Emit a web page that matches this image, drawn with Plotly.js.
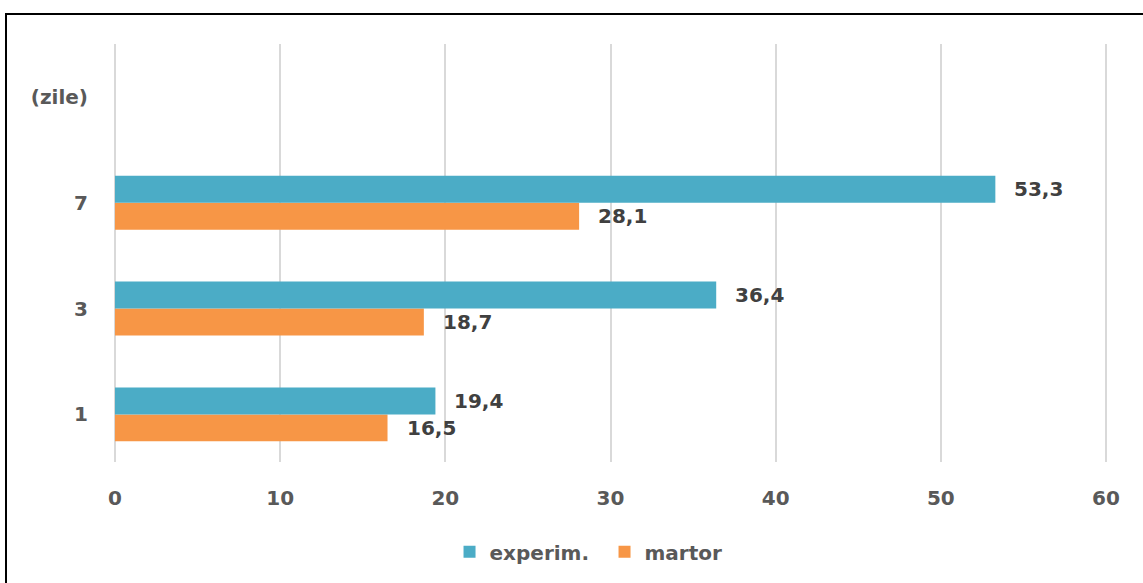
<!DOCTYPE html>
<html>
<head>
<meta charset="utf-8">
<script src="https://cdn.plot.ly/plotly-3.0.1.min.js"></script>
<style>
  html, body { margin: 0; padding: 0; width: 1143px; height: 583px; overflow: hidden; background: #fff; }
  #frame { position: absolute; left: 5px; top: 13px; width: 1200px; height: 700px; border: 2px solid #000; box-sizing: border-box; pointer-events: none; }
  #chart { position: absolute; left: 0; top: 0; width: 1143px; height: 583px; }
</style>
</head>
<body>
<div id="chart"></div>
<div id="frame"></div>
<script>
// Data
const categories = ['1', '3', '7'];
const axisCategories = ['1', '3', '7', '(zile)'];
const experim = [19.4, 36.4, 53.3];
const martor = [16.5, 18.7, 28.1];
const seriesNames = ['experim.', 'martor'];
const xTicks = [0, 10, 20, 30, 40, 50, 60];

const colExp = '#4BACC6';
const colMar = '#F79646';
const fontFam = '"DejaVu Sans", Verdana, sans-serif';

const fmt = v => v.toFixed(1).replace('.', ',');

const traces = [
  { type: 'bar', orientation: 'h', name: seriesNames[1], y: categories, x: martor,
    marker: { color: colMar }, legendrank: 2, hoverinfo: 'none' },
  { type: 'bar', orientation: 'h', name: seriesNames[0], y: categories, x: experim,
    marker: { color: colExp }, legendrank: 1, hoverinfo: 'none' }
];

const annotations = [];
categories.forEach((c, i) => {
  const yi = axisCategories.indexOf(c);
  annotations.push({ x: experim[i], y: yi, xref: 'x', yref: 'y', text: fmt(experim[i]),
    showarrow: false, xanchor: 'left', yanchor: 'middle', xshift: 17, yshift: 13.5,
    font: { family: fontFam, size: 20, color: '#404040', weight: 'bold' } });
  annotations.push({ x: martor[i], y: yi, xref: 'x', yref: 'y', text: fmt(martor[i]),
    showarrow: false, xanchor: 'left', yanchor: 'middle', xshift: 17, yshift: -13.5,
    font: { family: fontFam, size: 20, color: '#404040', weight: 'bold' } });
});

const layout = {
  width: 1143, height: 583,
  margin: { l: 113, r: 35, t: 44, b: 121 },
  paper_bgcolor: '#fff', plot_bgcolor: '#fff',
  barmode: 'group', bargap: 0.49, bargroupgap: 0,
  showlegend: true,
  legend: { orientation: 'h', x: 0.494, xanchor: 'center', y: -0.215, yanchor: 'middle',
    entrywidth: 110,
    font: { family: fontFam, size: 20, color: '#595959', weight: 'bold' }, traceorder: 'normal' },
  xaxis: { range: [-0.12, 60.12], tickvals: xTicks, ticktext: xTicks.map(String),
    showgrid: true, gridcolor: '#d9d9d9', gridwidth: 2, zeroline: false, showline: false,
    ticks: '', ticklabelstandoff: 22,
    tickfont: { family: fontFam, size: 20, color: '#595959', weight: 'bold' } },
  yaxis: { type: 'category', categoryorder: 'array', categoryarray: axisCategories,
    range: [-0.45, 3.5], showgrid: false, zeroline: false, showline: false, ticks: '',
    ticklabelstandoff: 24,
    tickfont: { family: fontFam, size: 20, color: '#595959', weight: 'bold' } },
  annotations: annotations
};

Plotly.newPlot('chart', traces, layout, { displayModeBar: false, staticPlot: true });
</script>
</body>
</html>
